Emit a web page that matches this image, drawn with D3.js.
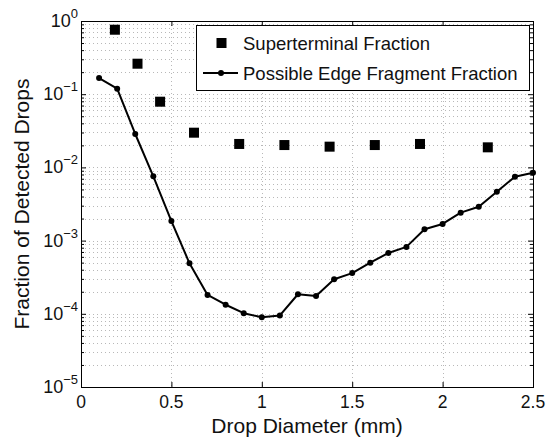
<!DOCTYPE html>
<html>
<head>
<meta charset="utf-8">
<script src="https://cdn.jsdelivr.net/npm/d3@7"></script>
<style>
  html, body { margin: 0; padding: 0; background: #fff; }
  svg { display: block; font-family: "Liberation Sans", Arial, Helvetica, sans-serif; }
</style>
</head>
<body>
<svg id="chart" width="548" height="437"></svg>
<script>
// ---- data ----
const edgeDiameters = [0.1,0.2,0.3,0.4,0.5,0.6,0.7,0.8,0.9,1.0,1.1,1.2,1.3,1.4,1.5,1.6,1.7,1.8,1.9,2.0,2.1,2.2,2.3,2.4,2.5];
const edgeFraction = [0.166,0.119,0.0286,0.00755,0.00185,4.9e-4,1.81e-4,1.33e-4,1.02e-4,8.95e-5,9.5e-5,1.85e-4,1.75e-4,2.96e-4,3.6e-4,4.99e-4,6.77e-4,8.2e-4,1.43e-3,1.69e-3,2.41e-3,2.9e-3,4.66e-3,7.46e-3,8.47e-3];
const superDiameters = [0.1875,0.3125,0.4375,0.625,0.875,1.125,1.375,1.625,1.875,2.25];
const superFraction = [0.76,0.261,0.079,0.0298,0.0209,0.0202,0.0192,0.0202,0.0209,0.0188];
const xTicks = [0,0.5,1,1.5,2,2.5];
const xTickLabels = ["0","0.5","1","1.5","2","2.5"];
const yExponents = [0,-1,-2,-3,-4,-5];
const seriesNames = ["Superterminal Fraction","Possible Edge Fragment Fraction"];
const xLabel = "Drop Diameter (mm)";
const yLabel = "Fraction of Detected Drops";

// ---- layout ----
const L = 81, R = 533, T = 21, B = 387;
const svg = d3.select("#chart");
const x = d3.scaleLinear().domain([0, 2.5]).range([L, R]);
const y = d3.scaleLog().domain([1e-5, 1]).range([B, T]);

const minorY = [];
for (let e = -5; e < 0; e++) for (let m = 2; m <= 9; m++) minorY.push(m * Math.pow(10, e));
const majorY = yExponents.map(e => Math.pow(10, e));

// grid
const grid = svg.append("g").attr("stroke", "#b8b8b8").attr("stroke-width", 1).attr("stroke-dasharray", "1,3").attr("fill", "none");
minorY.concat(majorY.filter(v => v > 1e-5 && v < 1)).forEach(v => {
  grid.append("line").attr("x1", L).attr("x2", R).attr("y1", Math.round(y(v)) + 0.5).attr("y2", Math.round(y(v)) + 0.5);
});
xTicks.filter(v => v > 0 && v < 2.5).forEach(v => {
  grid.append("line").attr("y1", T).attr("y2", B).attr("x1", Math.round(x(v)) + 0.5).attr("x2", Math.round(x(v)) + 0.5);
});

// axes (ticks inside)
const axB = d3.axisBottom(x).tickValues(xTicks).tickSize(-5).tickFormat("");
const axT = d3.axisTop(x).tickValues(xTicks).tickSize(-5).tickFormat("");
const axLmaj = d3.axisLeft(y).tickValues(majorY).tickSize(-5).tickFormat("");
const axRmaj = d3.axisRight(y).tickValues(majorY).tickSize(-5).tickFormat("");
const axLmin = d3.axisLeft(y).tickValues(minorY).tickSize(-3).tickFormat("");
const axRmin = d3.axisRight(y).tickValues(minorY).tickSize(-3).tickFormat("");
function styleAxis(g) { g.select(".domain").remove(); g.selectAll("line").attr("stroke", "#000"); }
svg.append("g").attr("transform", `translate(0,${B})`).call(axB).call(styleAxis);
svg.append("g").attr("transform", `translate(0,${T})`).call(axT).call(styleAxis);
svg.append("g").attr("transform", `translate(${L},0)`).call(axLmaj).call(styleAxis);
svg.append("g").attr("transform", `translate(${R},0)`).call(axRmaj).call(styleAxis);
svg.append("g").attr("transform", `translate(${L},0)`).call(axLmin).call(styleAxis);
svg.append("g").attr("transform", `translate(${R},0)`).call(axRmin).call(styleAxis);

svg.append("rect").attr("x", L + 0.5).attr("y", T + 0.5).attr("width", R - L).attr("height", B - T)
  .attr("fill", "none").attr("stroke", "#000").attr("stroke-width", 1);

// x tick labels
svg.append("g").selectAll("text").data(xTicks).join("text")
  .attr("x", d => x(d)).attr("y", B + 21).attr("text-anchor", "middle")
  .attr("font-size", 17.5).attr("fill", "#111").text((d, i) => xTickLabels[i]);

// y tick labels with superscripts
const yl = svg.append("g");
yExponents.forEach(e => {
  const t = yl.append("text").attr("x", 78).attr("y", y(Math.pow(10, e)) + 6)
    .attr("text-anchor", "end").attr("font-size", 18).attr("fill", "#111");
  t.append("tspan").text("10");
  t.append("tspan").attr("dy", -9).attr("font-size", 13).text(e === 0 ? "0" : "\u2212" + (-e));
});

// axis labels
svg.append("text").attr("x", (L + R) / 2).attr("y", B + 46).attr("text-anchor", "middle")
  .attr("font-size", 21).attr("fill", "#111").text(xLabel);
svg.append("text").attr("transform", `translate(29,${(T + B) / 2}) rotate(-90)`).attr("text-anchor", "middle")
  .attr("font-size", 21).attr("fill", "#111").text(yLabel);

// line series
const line = d3.line().x((d, i) => x(edgeDiameters[i])).y(d => y(d));
svg.append("path").datum(edgeFraction).attr("d", line).attr("fill", "none")
  .attr("stroke", "#000").attr("stroke-width", 2).attr("stroke-linejoin", "round");
svg.append("g").selectAll("circle").data(edgeFraction).join("circle")
  .attr("cx", (d, i) => x(edgeDiameters[i])).attr("cy", d => y(d)).attr("r", 3).attr("fill", "#000");

// squares
const sq = 10;
svg.append("g").selectAll("rect").data(superFraction).join("rect")
  .attr("x", (d, i) => x(superDiameters[i]) - sq / 2).attr("y", d => y(d) - sq / 2)
  .attr("width", sq).attr("height", sq).attr("fill", "#000");

// legend
const lg = svg.append("g");
lg.append("rect").attr("x", 196.5).attr("y", 25.5).attr("width", 333).attr("height", 65)
  .attr("fill", "#fff").attr("stroke", "#000").attr("stroke-width", 1);
lg.append("rect").attr("x", 221.5 - sq / 2).attr("y", 43 - sq / 2).attr("width", sq).attr("height", sq).attr("fill", "#000");
lg.append("line").attr("x1", 203).attr("x2", 238).attr("y1", 73).attr("y2", 73).attr("stroke", "#000").attr("stroke-width", 2);
lg.append("circle").attr("cx", 221).attr("cy", 73).attr("r", 3).attr("fill", "#000");
lg.append("text").attr("x", 243).attr("y", 49.5).attr("font-size", 18.5).attr("fill", "#111").text(seriesNames[0]);
lg.append("text").attr("x", 243).attr("y", 79.5).attr("font-size", 18.5).attr("fill", "#111").text(seriesNames[1]);
</script>
</body>
</html>
